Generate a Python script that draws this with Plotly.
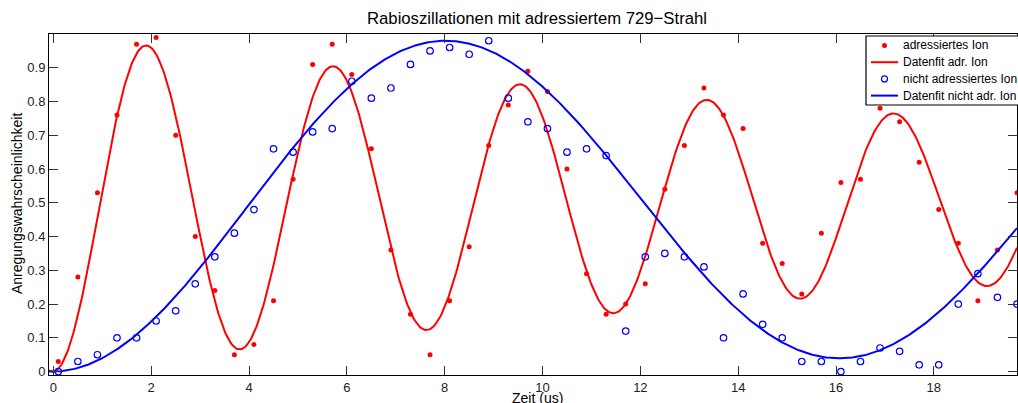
import numpy as np
import plotly.graph_objects as go

# Measurement times (us)
t_meas = [0.1, 0.5, 0.9, 1.3, 1.7, 2.1, 2.5, 2.9, 3.3, 3.7,
          4.1, 4.5, 4.9, 5.3, 5.7, 6.1, 6.5, 6.9, 7.3, 7.7,
          8.1, 8.5, 8.9, 9.3, 9.7, 10.1, 10.5, 10.9, 11.3, 11.7,
          12.1, 12.5, 12.9, 13.3, 13.7, 14.1, 14.5, 14.9, 15.3, 15.7,
          16.1, 16.5, 16.9, 17.3, 17.7, 18.1, 18.5, 18.9, 19.3, 19.7]

# Excitation probability of the addressed ion
p_addressed = [0.03, 0.28, 0.53, 0.76, 0.97, 0.99, 0.70, 0.40, 0.24, 0.05,
               0.08, 0.21, 0.57, 0.91, 0.97, 0.88, 0.66, 0.36, 0.17, 0.05,
               0.21, 0.37, 0.67, 0.79, 0.89, 0.83, 0.60, 0.29, 0.17, 0.20,
               0.26, 0.54, 0.67, 0.84, 0.76, 0.72, 0.38, 0.32, 0.23, 0.41,
               0.56, 0.57, 0.78, 0.74, 0.62, 0.48, 0.38, 0.21, 0.36, 0.53]

# Excitation probability of the non-addressed ion
p_neighbour = [0.00, 0.03, 0.05, 0.10, 0.10, 0.15, 0.18, 0.26, 0.34, 0.41,
               0.48, 0.66, 0.65, 0.71, 0.72, 0.86, 0.81, 0.84, 0.91, 0.95,
               0.96, 0.94, 0.98, 0.81, 0.74, 0.72, 0.65, 0.66, 0.64, 0.12,
               0.34, 0.35, 0.34, 0.31, 0.10, 0.23, 0.14, 0.10, 0.03, 0.03,
               0.00, 0.03, 0.07, 0.06, 0.02, 0.02, 0.20, 0.29, 0.22, 0.20]

# Fit parameters of the damped Rabi model: offset, amplitude, period (us), decay time (us)
fit_addressed = [0.5, 0.5, 3.82, 27.0]
fit_neighbour = [0.5, 0.5, 16.1, 196.0]

x_ticks = [0, 2, 4, 6, 8, 10, 12, 14, 16, 18]
y_ticks = [0, 0.1, 0.2, 0.3, 0.4, 0.5, 0.6, 0.7, 0.8, 0.9]
y_tick_text = ["0", "0.1", "0.2", "0.3", "0.4", "0.5", "0.6", "0.7", "0.8", "0.9"]

legend_labels = ["adressiertes Ion", "Datenfit adr. Ion",
                 "nicht adressiertes Ion", "Datenfit nicht adr. Ion"]

x_range = [-0.09, 19.7]
y_range = [-0.01, 1.0]

RED = "#ff0000"
BLUE = "#0000ff"
FONT = "Liberation Sans, Arial, Helvetica, sans-serif"

# Figure geometry (pixels)
W, H = 1018, 403
M_L, M_R, M_T, M_B = 49, 1, 34, 28
PLOT_W = W - M_L - M_R
PLOT_H = H - M_T - M_B


def px(xp):
    """Horizontal pixel position -> paper coordinate."""
    return (xp - M_L) / PLOT_W


def py(yp):
    """Vertical pixel position (from top) -> paper coordinate."""
    return (H - M_B - yp) / PLOT_H


def rabi(t, params):
    off, amp, period, tau = params
    return off - amp * np.exp(-t / tau) * np.cos(2 * np.pi * t / period)


t_fit = np.linspace(x_range[0], x_range[1], 800)

fig = go.Figure()
fig.add_trace(go.Scatter(
    x=t_meas, y=p_addressed, mode="markers", name=legend_labels[0], showlegend=False,
    marker=dict(symbol="circle", size=5, color=RED, line=dict(width=0)),
))
fig.add_trace(go.Scatter(
    x=t_fit, y=rabi(t_fit, fit_addressed), mode="lines", name=legend_labels[1], showlegend=False,
    line=dict(color=RED, width=2),
))
fig.add_trace(go.Scatter(
    x=t_meas, y=p_neighbour, mode="markers", name=legend_labels[2], showlegend=False,
    marker=dict(symbol="circle-open", size=6.5, color=BLUE, line=dict(width=1.2, color=BLUE)),
))
fig.add_trace(go.Scatter(
    x=t_fit, y=rabi(t_fit, fit_neighbour), mode="lines", name=legend_labels[3], showlegend=False,
    line=dict(color=BLUE, width=2),
))

axis_common = dict(
    ticks="inside", ticklen=9, tickwidth=1, tickcolor="#333333",
    mirror="ticks", showline=True, linecolor="black", linewidth=1,
    showgrid=False, zeroline=False,
    tickfont=dict(family=FONT, size=13, color="#222222"),
)
fig.update_xaxes(range=x_range, tickvals=x_ticks, **axis_common)
fig.update_yaxes(range=y_range, tickvals=y_ticks, ticktext=y_tick_text, **axis_common)

# Legend box in the upper right corner, drawn with shapes and text
leg_left, leg_top, leg_bottom, leg_right = 866, 36, 105, 1040
row_y = [45.5, 62.2, 78.9, 95.6]
sym_x0, sym_x1, text_x = 871, 898, 901
sym_xc = (sym_x0 + sym_x1) / 2

shapes = [
    dict(type="rect", xref="paper", yref="paper",
         x0=px(leg_left), x1=px(leg_right), y0=py(leg_bottom), y1=py(leg_top),
         fillcolor="white", line=dict(color="black", width=1.2), layer="above"),
    # dot marker
    dict(type="circle", xref="paper", yref="paper", xsizemode="pixel", ysizemode="pixel",
         xanchor=px(sym_xc), yanchor=py(row_y[0]), x0=-2.5, x1=2.5, y0=-2.5, y1=2.5,
         fillcolor=RED, line=dict(width=0), layer="above"),
    # red fit line
    dict(type="line", xref="paper", yref="paper",
         x0=px(sym_x0), x1=px(sym_x1), y0=py(row_y[1]), y1=py(row_y[1]),
         line=dict(color=RED, width=2), layer="above"),
    # open circle marker
    dict(type="circle", xref="paper", yref="paper", xsizemode="pixel", ysizemode="pixel",
         xanchor=px(sym_xc), yanchor=py(row_y[2]), x0=-3, x1=3, y0=-3, y1=3,
         fillcolor="rgba(0,0,0,0)", line=dict(color=BLUE, width=1.2), layer="above"),
    # blue fit line
    dict(type="line", xref="paper", yref="paper",
         x0=px(sym_x0), x1=px(sym_x1), y0=py(row_y[3]), y1=py(row_y[3]),
         line=dict(color=BLUE, width=2), layer="above"),
]

annotations = [
    dict(text=label, xref="paper", yref="paper", x=px(text_x), y=py(yy),
         xanchor="left", yanchor="middle", showarrow=False,
         font=dict(family=FONT, size=12, color="black"))
    for label, yy in zip(legend_labels, row_y)
]
annotations += [
    dict(text="Zeit (us)", xref="paper", yref="paper", x=px(537), y=py(387.5),
         xanchor="center", yanchor="top", showarrow=False,
         font=dict(family=FONT, size=14, color="black")),
    dict(text="Anregungswahrscheinlichkeit", xref="paper", yref="paper",
         x=px(17), y=py(204), xanchor="center", yanchor="middle", textangle=-90,
         showarrow=False, font=dict(family=FONT, size=14, color="black")),
]

fig.update_layout(
    width=W, height=H,
    margin=dict(l=M_L, r=M_R, t=M_T, b=M_B, autoexpand=False),
    paper_bgcolor="white", plot_bgcolor="white",
    font=dict(family=FONT, color="black"),
    title=dict(text="Rabioszillationen mit adressiertem 729\u2212Strahl",
               x=px(537), xref="paper", xanchor="center",
               y=1 - 18 / H, yref="container", yanchor="middle",
               font=dict(family=FONT, size=16.7, color="black")),
    showlegend=False,
    shapes=shapes,
    annotations=annotations,
)

fig.write_html("out.html")
